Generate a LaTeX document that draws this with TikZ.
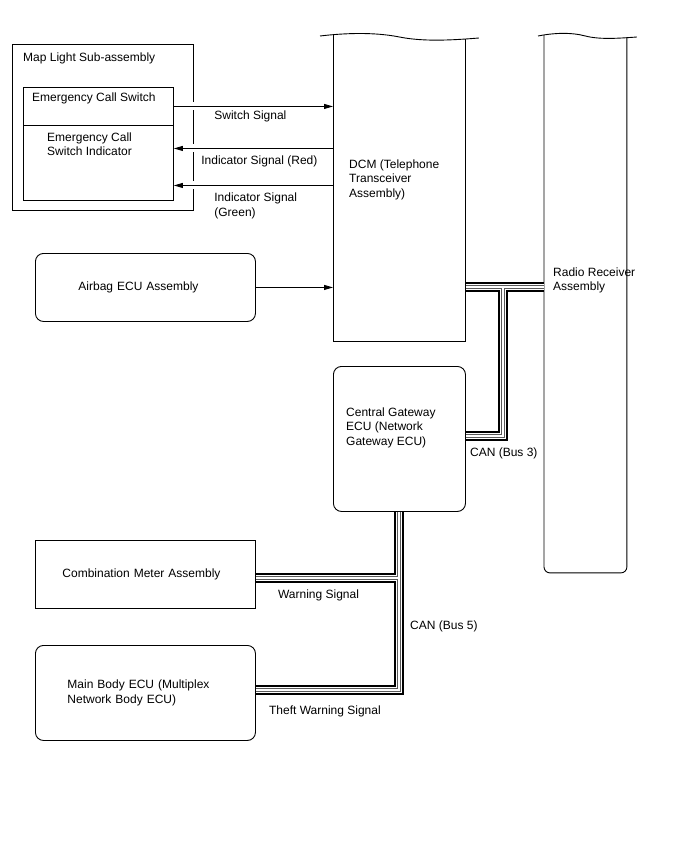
\documentclass[tikz,border=0pt]{standalone}
\usepackage{fontspec}
\setmainfont{Liberation Sans}
\usetikzlibrary{positioning,arrows.meta,calc}

\begin{document}
\begin{tikzpicture}[
    x=1pt, y=-1pt,
    font=\fontsize{12}{14.5}\selectfont,
    box/.style={draw, line width=0.9pt, inner sep=0pt, anchor=north west, align=left},
    rbox/.style={box, rounded corners=8pt},
    txt/.style={inner sep=0pt, align=left},
    edge/.style={line width=0.9pt},
    arr/.style={-{Triangle[length=9pt, width=5pt]}, line width=0.9pt},
    gap/.style={preaction={draw=white, line width=8pt, shorten <=3pt, shorten >=3pt}},
    busout/.style={line width=10pt, black},
    busmid/.style={line width=5.6pt, white},
    buspair/.style={line width=3.2pt, black!65},
    buscore/.style={line width=1.3pt, white},
]

\useasboundingbox (0,0) rectangle (688,852);

% Map light sub-assembly
\node[box, minimum width=181pt, minimum height=166pt] (maplight) at (12,44) {};
\node[box, minimum width=150pt, minimum height=38pt] (ecsw) at (23,87) {};
\node[box, minimum width=150pt, minimum height=75pt] (ecind) at (23,125) {};
\node[txt, below right=8.5pt and 11pt of maplight.north west] {Map Light Sub-assembly};
\node[txt, below right=5.5pt and 9pt of ecsw.north west] {Emergency Call Switch};
\node[txt, below right=7.5pt and 24pt of ecind.north west] {Emergency Call\\Switch Indicator};

% DCM (cut off at the top)
\node[box, draw=none, minimum width=132pt, minimum height=304pt] (dcm) at (333,37) {};
\draw[edge] ([yshift=2.3pt]dcm.north west) -- (dcm.south west) -- (dcm.south east) -- ([yshift=-1.9pt]dcm.north east);
\draw[edge] ([xshift=-13pt, yshift=1pt]dcm.north west) .. controls +(25,-3) and +(-25,-5) .. (dcm.north)
    .. controls +(25,5) and +(-25,2) .. ([xshift=13pt, yshift=-1pt]dcm.north east);
\node[txt, below right=122.5pt and 16pt of dcm.north west] {DCM (Telephone\\Transceiver\\Assembly)};

% Radio receiver (cut off at the top)
\node[box, draw=none, minimum width=82pt, minimum height=536pt] (radio) at (544,36) {};
\draw[edge, rounded corners=6pt] ([yshift=1pt]radio.north west) -- (radio.south west) -- (radio.south east) -- ([yshift=-1.7pt]radio.north east);
\draw[edge] ([xshift=-6pt]radio.north west) .. controls +(15,-3) and +(-15,-4) .. (radio.north)
    .. controls +(15,4) and +(-15,1) .. ([xshift=10pt, yshift=-1pt]radio.north east);
\node[txt, below right=231.5pt and 9pt of radio.north west] {Radio Receiver\\Assembly};

% ECUs and meter
\node[rbox, minimum width=220pt, minimum height=68pt, text width=134pt] (airbag) at (35,253) {Airbag ECU Assembly};
\node[rbox, minimum width=132pt, minimum height=145pt] (gateway) at (333,366) {};
\node[txt, below right=41.5pt and 13pt of gateway.north west] {Central Gateway\\ECU (Network\\Gateway ECU)};
\node[box, minimum width=220pt, minimum height=68pt, text width=166pt] (meter) at (35,540) {Combination Meter Assembly};
\node[rbox, minimum width=220pt, minimum height=95pt, text width=156pt] (mainbody) at (35,645) {Main Body ECU (Multiplex\\Network Body ECU)};

% CAN buses
\coordinate (bus3) at (503,287);
\coordinate (bus3c) at (503,436);
\coordinate (bus5) at (399,578);
\coordinate (bus5c) at (399,690);
\foreach \s in {busout, busmid, buspair, buscore} {
  \draw[\s] (bus3 -| dcm.east) -- (bus3 -| radio.west);
  \draw[\s] (bus3) -- (bus3c) -- (bus3c -| gateway.east);
  \draw[\s] (bus5 |- gateway.south) -- (bus5c) -- (bus5c -| mainbody.east);
  \draw[\s] (bus5) -- (bus5 -| meter.east);
}

% Signal lines
\coordinate (redpt) at ([yshift=14.5pt]ecind.east);
\coordinate (greenpt) at ([yshift=-22.5pt]ecind.east);
\draw[arr, gap] (ecsw.east) -- (ecsw.east -| dcm.west) node[txt, pos=0, below right=4pt and 40pt] {Switch Signal};
\draw[arr, gap] (redpt -| dcm.west) -- (redpt) node[txt, pos=1, below right=7pt and 27pt] {Indicator Signal (Red)};
\draw[arr, gap] (greenpt -| dcm.west) -- (greenpt) node[txt, pos=1, below right=7pt and 40pt] {Indicator Signal\\(Green)};
\draw[arr] (airbag.east) -- (airbag.east -| dcm.west);

% Bus labels
\node[txt, below right=8.5pt and 4pt of gateway.east] {CAN (Bus 3)};
\node[txt, below right=42.5pt and 11pt of bus5] {CAN (Bus 5)};
\node[txt, below right=15.5pt and 22pt of meter.east] {Warning Signal};
\node[txt, below right=13pt and 13pt of mainbody.east] {Theft Warning Signal};

\end{tikzpicture}
\end{document}
